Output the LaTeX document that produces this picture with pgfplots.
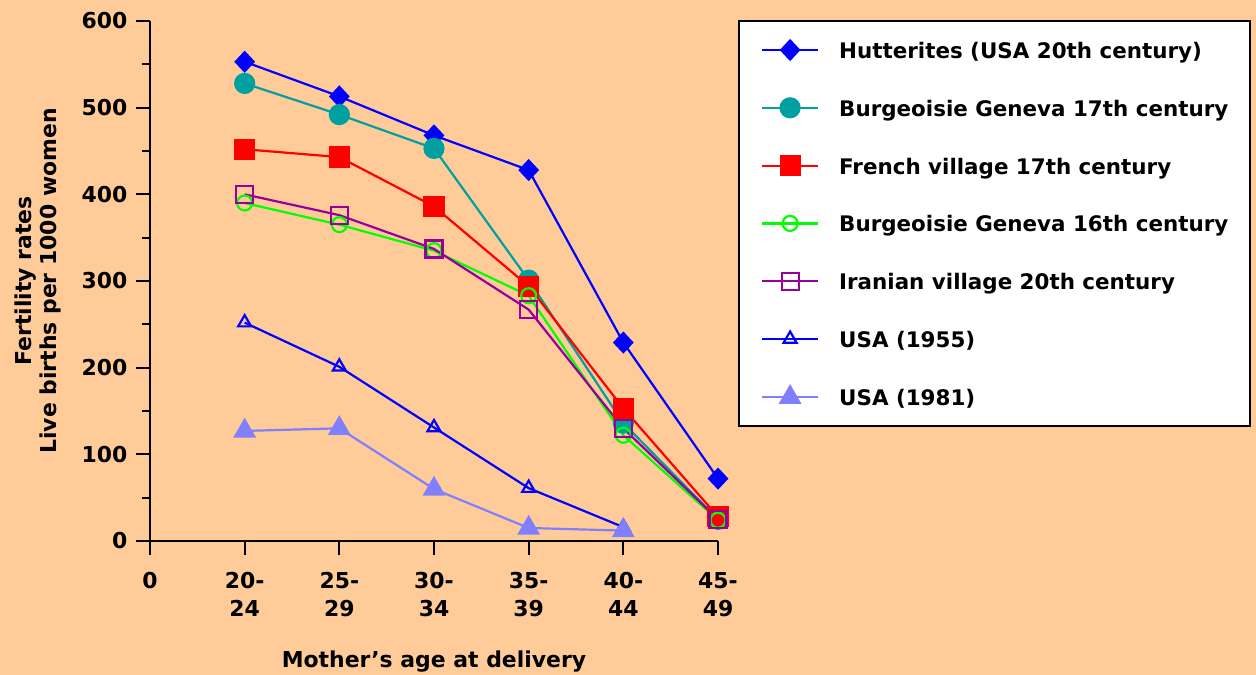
\documentclass[border=0pt]{standalone}
\usepackage{pgfplots}
\pgfplotsset{compat=1.18}
\usepackage{fontspec}
\setmainfont{DejaVu Sans}

\definecolor{bg}{RGB}{255,204,153}
\definecolor{hutblue}{RGB}{0,0,255}
\definecolor{genteal}{RGB}{0,160,160}
\definecolor{frred}{RGB}{255,0,0}
\definecolor{gengreen}{RGB}{0,255,0}
\definecolor{iranpurple}{RGB}{153,0,153}
\definecolor{usablue}{RGB}{0,0,255}
\definecolor{usalight}{RGB}{128,128,255}

\begin{document}
\begin{tikzpicture}
\fill[bg] (-150bp,-134bp) rectangle (1106bp,541bp);
\begin{axis}[
  at={(0,0)}, anchor=south west,
  scale only axis, width=568bp, height=520bp,
  xmin=0, xmax=6, ymin=0, ymax=600,
  clip=false,
  axis lines*=left,
  axis line style={line width=2.2bp, black},
  every tick/.style={black, line width=2.2bp},
  tick align=outside,
  major tick length=14bp, minor tick length=8bp,
  xtick={0,...,6},
  xticklabels={0,{20-\\24},{25-\\29},{30-\\34},{35-\\39},{40-\\44},{45-\\49}},
  x tick label style={align=center, font=\bfseries\fontsize{22}{28}\selectfont, yshift=-14bp},
  ytick={0,100,...,600}, minor y tick num=1,
  y tick label style={font=\bfseries\fontsize{22}{26}\selectfont, xshift=-5bp},
  /pgf/number format/assume math mode=true,
  xlabel={Mother's age at delivery},
  xlabel style={font=\bfseries\fontsize{22}{26}\selectfont, at={(axis description cs:0.5,-0.2327)}, anchor=center},
  ylabel={Fertility rates\\Live births per 1000 women},
  ylabel style={align=center, font=\bfseries\fontsize{22}{25}\selectfont, at={(axis description cs:-0.198,0.5)}, anchor=center},
  legend style={at={(axis description cs:1,1)}, anchor=north west, xshift=20bp, yshift=1bp,
    draw=black, line width=2bp, fill=white, inner xsep=22bp, inner ysep=18.5bp,
    row sep=36.8bp, column sep=20bp,
    font=\bfseries\fontsize{21.5}{26}\selectfont,
    nodes={inner sep=0pt, text height=19bp, text depth=2bp}},
  legend cell align=left,
  legend image code/.code={\draw[mark repeat=2,mark phase=2,#1] plot coordinates {(0bp,0bp) (28bp,0bp) (56bp,0bp)};},
]
\addplot[color=hutblue, line width=2.2bp, mark=diamond*, mark size=9.5bp, mark options={solid, xscale=1.25}]
  coordinates {(1,553) (2,513) (3,468) (4,428) (5,229) (6,72)};
\addlegendentry{Hutterites (USA 20th century)}
\addplot[color=genteal, line width=2.2bp, mark=*, mark size=9.5bp, mark options={solid}]
  coordinates {(1,528) (2,492) (3,453) (4,301) (5,136) (6,25)};
\addlegendentry{Burgeoisie Geneva 17th century}
\addplot[color=frred, line width=2.2bp, mark=square*, mark size=9.5bp, mark options={solid}]
  coordinates {(1,452) (2,443) (3,386) (4,294) (5,153) (6,28)};
\addlegendentry{French village 17th century}
\addplot[color=gengreen, line width=2.2bp, mark=o, mark size=7.5bp, mark options={solid}]
  coordinates {(1,390) (2,365) (3,335) (4,283) (5,122) (6,24)};
\addlegendentry{Burgeoisie Geneva 16th century}
\addplot[color=iranpurple, line width=2.2bp, mark=square, mark size=8.5bp, mark options={solid}]
  coordinates {(1,400) (2,376) (3,337) (4,267) (5,130) (6,25)};
\addlegendentry{Iranian village 20th century}
\addplot[color=usablue, line width=2.2bp, mark=triangle, mark size=7.5bp, mark options={solid}]
  coordinates {(1,252) (2,201) (3,131) (4,61) (5,16)};
\addlegendentry{USA (1955)}
\addplot[color=usalight, line width=2.2bp, mark=triangle*, mark size=11bp, mark options={solid}]
  coordinates {(1,127) (2,130) (3,60) (4,15) (5,12)};
\addlegendentry{USA (1981)}
\end{axis}
\pgfresetboundingbox
\useasboundingbox (-150bp,-134bp) rectangle (1106bp,541bp);
\end{tikzpicture}
\end{document}
